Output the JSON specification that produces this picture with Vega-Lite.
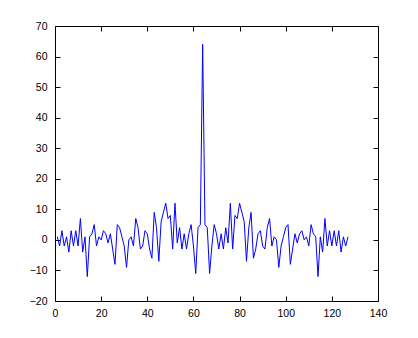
{
  "$schema": "https://vega.github.io/schema/vega-lite/v6.json",
  "width": 323,
  "height": 275,
  "autosize": "none",
  "padding": {"left": 55, "top": 26, "right": 40, "bottom": 37},
  "background": "white",
  "config": {
    "view": {"stroke": null},
    "axis": {
      "grid": false,
      "domainColor": "black",
      "tickColor": "black",
      "labelColor": "black",
      "labelFont": "Liberation Sans",
      "labelFontSize": 10.5,
      "tickSize": -5,
      "domainWidth": 1,
      "tickWidth": 1
    }
  },
  "data": {
    "values": [
      {"x": 1, "y": 1}, {"x": 2, "y": -2}, {"x": 3, "y": 3}, {"x": 4, "y": -2}, {"x": 5, "y": 1},
      {"x": 6, "y": -4}, {"x": 7, "y": 3}, {"x": 8, "y": -2}, {"x": 9, "y": 3}, {"x": 10, "y": -2},
      {"x": 11, "y": 7}, {"x": 12, "y": -4}, {"x": 13, "y": 1}, {"x": 14, "y": -12}, {"x": 15, "y": 1},
      {"x": 16, "y": 2}, {"x": 17, "y": 5}, {"x": 18, "y": -2}, {"x": 19, "y": 1}, {"x": 20, "y": 0},
      {"x": 21, "y": 3}, {"x": 22, "y": 2}, {"x": 23, "y": -1}, {"x": 24, "y": 2}, {"x": 25, "y": -3},
      {"x": 26, "y": -8}, {"x": 27, "y": 5}, {"x": 28, "y": 4}, {"x": 29, "y": 1}, {"x": 30, "y": -2},
      {"x": 31, "y": -9}, {"x": 32, "y": 0}, {"x": 33, "y": 1}, {"x": 34, "y": -2}, {"x": 35, "y": 7},
      {"x": 36, "y": 4}, {"x": 37, "y": -3}, {"x": 38, "y": -2}, {"x": 39, "y": 3}, {"x": 40, "y": 2},
      {"x": 41, "y": -3}, {"x": 42, "y": -6}, {"x": 43, "y": 9}, {"x": 44, "y": 4}, {"x": 45, "y": -7},
      {"x": 46, "y": 6}, {"x": 47, "y": 9}, {"x": 48, "y": 12}, {"x": 49, "y": 7}, {"x": 50, "y": 8},
      {"x": 51, "y": -3}, {"x": 52, "y": 12}, {"x": 53, "y": -1}, {"x": 54, "y": 4}, {"x": 55, "y": -3},
      {"x": 56, "y": 2}, {"x": 57, "y": -3}, {"x": 58, "y": 2}, {"x": 59, "y": 5}, {"x": 60, "y": -2},
      {"x": 61, "y": -11}, {"x": 62, "y": 4}, {"x": 63, "y": 5}, {"x": 64, "y": 64}, {"x": 65, "y": 5},
      {"x": 66, "y": 4}, {"x": 67, "y": -11}, {"x": 68, "y": -2}, {"x": 69, "y": 5}, {"x": 70, "y": 2},
      {"x": 71, "y": -3}, {"x": 72, "y": 2}, {"x": 73, "y": -3}, {"x": 74, "y": 4}, {"x": 75, "y": -1},
      {"x": 76, "y": 12}, {"x": 77, "y": -3}, {"x": 78, "y": 8}, {"x": 79, "y": 7}, {"x": 80, "y": 12},
      {"x": 81, "y": 9}, {"x": 82, "y": 6}, {"x": 83, "y": -7}, {"x": 84, "y": 4}, {"x": 85, "y": 9},
      {"x": 86, "y": -6}, {"x": 87, "y": -3}, {"x": 88, "y": 2}, {"x": 89, "y": 3}, {"x": 90, "y": -2},
      {"x": 91, "y": -3}, {"x": 92, "y": 4}, {"x": 93, "y": 7}, {"x": 94, "y": -2}, {"x": 95, "y": 1},
      {"x": 96, "y": 0}, {"x": 97, "y": -9}, {"x": 98, "y": -2}, {"x": 99, "y": 1}, {"x": 100, "y": 4},
      {"x": 101, "y": 5}, {"x": 102, "y": -8}, {"x": 103, "y": -3}, {"x": 104, "y": 2}, {"x": 105, "y": -1},
      {"x": 106, "y": 2}, {"x": 107, "y": 3}, {"x": 108, "y": 0}, {"x": 109, "y": 1}, {"x": 110, "y": -2},
      {"x": 111, "y": 5}, {"x": 112, "y": 2}, {"x": 113, "y": 1}, {"x": 114, "y": -12}, {"x": 115, "y": 1},
      {"x": 116, "y": -4}, {"x": 117, "y": 7}, {"x": 118, "y": -2}, {"x": 119, "y": 3}, {"x": 120, "y": -2},
      {"x": 121, "y": 3}, {"x": 122, "y": -2}, {"x": 123, "y": 3}, {"x": 124, "y": -4}, {"x": 125, "y": 1},
      {"x": 126, "y": -2}, {"x": 127, "y": 1}
    ]
  },
  "layer": [
    {
      "mark": {"type": "line", "color": "#0000ff", "strokeWidth": 1, "clip": true},
      "encoding": {
        "x": {"field": "x", "type": "quantitative", "scale": {"domain": [0, 140], "nice": false, "zero": false},
              "axis": {"orient": "bottom", "values": [0, 20, 40, 60, 80, 100, 120, 140], "title": null, "labelPadding": 12, "labelFlush": false}},
        "y": {"field": "y", "type": "quantitative", "scale": {"domain": [-20, 70], "nice": false, "zero": false},
              "axis": {"orient": "left", "values": [-20, -10, 0, 10, 20, 30, 40, 50, 60, 70], "title": null, "labelPadding": 13, "labelFlush": false}}
      }
    },
    {
      "mark": {"type": "line", "opacity": 0},
      "encoding": {
        "x": {"field": "x", "type": "quantitative", "scale": {"domain": [0, 140], "nice": false, "zero": false},
              "axis": {"orient": "top", "values": [0, 20, 40, 60, 80, 100, 120, 140], "title": null, "labels": false}},
        "y": {"field": "y", "type": "quantitative", "scale": {"domain": [-20, 70], "nice": false, "zero": false},
              "axis": {"orient": "right", "values": [-20, -10, 0, 10, 20, 30, 40, 50, 60, 70], "title": null, "labels": false}}
      }
    }
  ],
  "resolve": {"axis": {"x": "independent", "y": "independent"}}
}
